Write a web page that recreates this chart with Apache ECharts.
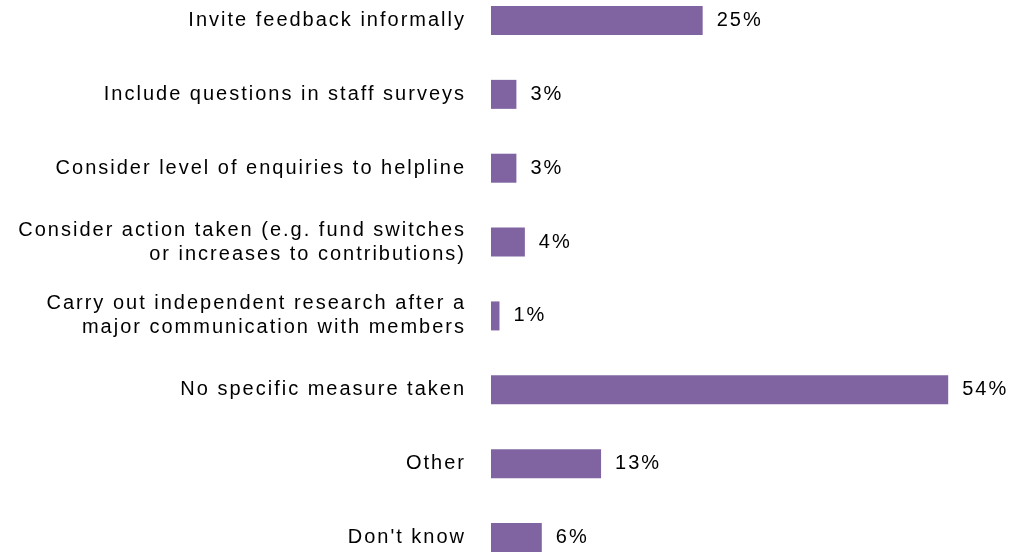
<!DOCTYPE html>
<html>
<head>
<meta charset="utf-8">
<script src="https://cdn.jsdelivr.net/npm/echarts@6/dist/echarts.min.js"></script>
<style>
  html, body { margin: 0; padding: 0; background: #ffffff; }
  #chart { width: 1018px; height: 553px; }
</style>
</head>
<body>
<div id="chart"></div>
<script>
// Survey answers, listed top to bottom
const categories = [
  "Invite feedback informally",
  "Include questions in staff surveys",
  "Consider level of enquiries to helpline",
  "Consider action taken (e.g. fund switches\nor increases to contributions)",
  "Carry out independent research after a\nmajor communication with members",
  "No specific measure taken",
  "Other",
  "Don't know"
];
// Share of respondents (%)
const shares = [25, 3, 3, 4, 1, 54, 13, 6];

// Loosely tracked lettering for every text drawn or measured on the canvas
(function () {
  const proto = CanvasRenderingContext2D.prototype;
  ['fillText', 'strokeText', 'measureText'].forEach(function (fn) {
    const orig = proto[fn];
    proto[fn] = function () {
      if ('letterSpacing' in this) this.letterSpacing = '2px';
      return orig.apply(this, arguments);
    };
  });
})();

const chart = echarts.init(document.getElementById('chart'));
const font = '"Liberation Sans", Arial, sans-serif';

chart.setOption({
  animation: false,
  backgroundColor: '#ffffff',
  grid: { left: 491, right: 19, top: 20.5, bottom: 15.5, containLabel: false },
  xAxis: {
    type: 'value', min: 0, max: 60,
    show: false
  },
  yAxis: {
    type: 'category',
    inverse: true,
    boundaryGap: false,
    data: categories,
    axisLine: { show: false },
    axisTick: { show: false },
    splitLine: { show: false },
    axisLabel: {
      margin: 25,
      color: '#000000',
      fontFamily: font,
      fontSize: 20,
      lineHeight: 24,
      align: 'right'
    }
  },
  series: [{
    type: 'bar',
    data: shares,
    barWidth: 29,
    itemStyle: { color: '#8064A2' },
    label: {
      show: true,
      position: 'right',
      distance: 14,
      formatter: '{c}%',
      color: '#000000',
      fontFamily: font,
      fontSize: 20
    }
  }]
});
</script>
</body>
</html>
